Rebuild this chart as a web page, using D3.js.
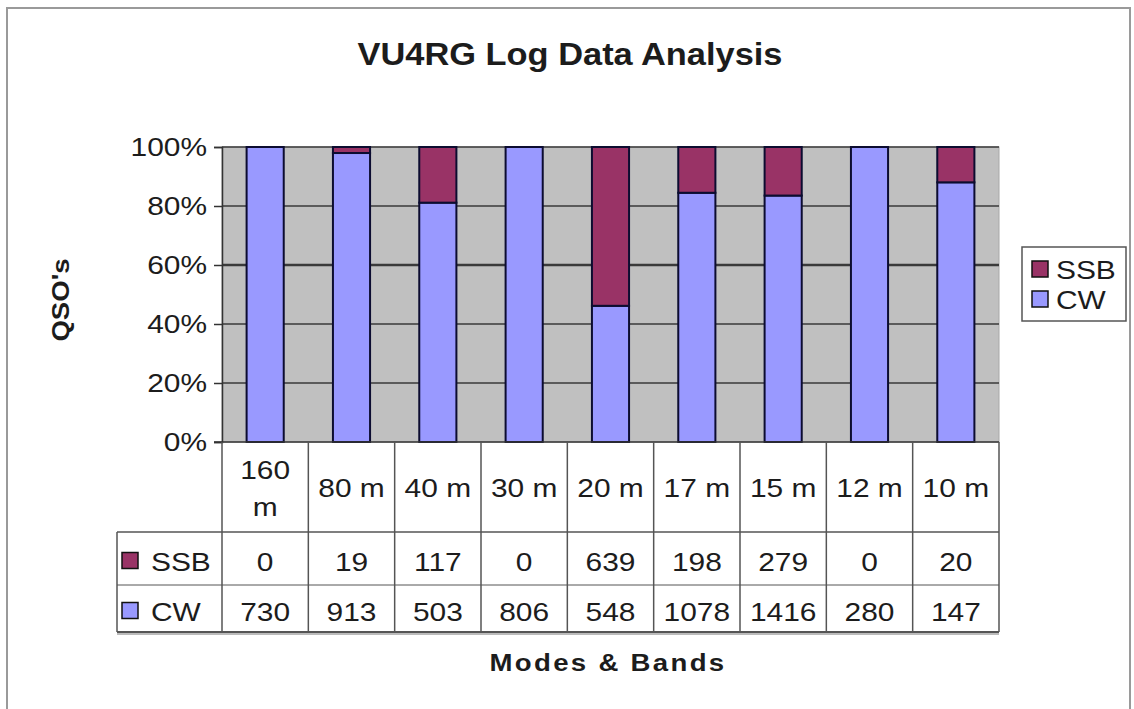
<!DOCTYPE html>
<html>
<head>
<meta charset="utf-8">
<script src="https://cdn.jsdelivr.net/npm/d3@7"></script>
<style>
  body { margin: 0; background: #fff; }
  text { font-family: "Liberation Sans", Arial, sans-serif; fill: #1c1c1c; }
</style>
</head>
<body>
<svg id="chart" width="1134" height="709"></svg>
<script>
// data
const bands = ["160 m", "80 m", "40 m", "30 m", "20 m", "17 m", "15 m", "12 m", "10 m"];
const ssb = [0, 19, 117, 0, 639, 198, 279, 0, 20];
const cw = [730, 913, 503, 806, 548, 1078, 1416, 280, 147];
const yTicks = [0, 0.2, 0.4, 0.6, 0.8, 1];
const seriesNames = ["SSB", "CW"];
const colors = { SSB: "#993366", CW: "#9999ff" };

const SX = 1.15; // the source text is a bit wider than Arial
const FS = 26;
const svg = d3.select("#chart");

// place a text with its own horizontal stretch
function label(parent, tx, ty, str, anchor, size, bold) {
  return parent.append("text")
    .attr("transform", `translate(${tx},${ty}) scale(${SX},1)`)
    .attr("text-anchor", anchor || "start")
    .attr("font-size", size || FS)
    .attr("font-weight", bold ? "bold" : null)
    .text(str);
}

// outer frame
svg.append("rect").attr("x", 7).attr("y", 8).attr("width", 1123).attr("height", 720)
  .attr("fill", "#fff").attr("stroke", "#9a9a9a").attr("stroke-width", 2);

// plot area
const plot = { left: 222, right: 999, top: 147, bottom: 442 };
const tbl = { labelLeft: 117, headBottom: 532, rowMid: 585, bottom: 632 };

const x = d3.scaleBand().domain(bands).range([plot.left, plot.right]).padding(0);
const y = d3.scaleLinear().domain([0, 1]).range([plot.bottom, plot.top]);
const barW = x.bandwidth() * 0.43;

// title
svg.append("text").attr("x", 570).attr("y", 65).attr("text-anchor", "middle")
  .attr("font-size", 32).attr("font-weight", "bold")
  .attr("textLength", 425).attr("lengthAdjust", "spacingAndGlyphs")
  .text("VU4RG Log Data Analysis");

// background + gridlines
svg.append("rect").attr("x", plot.left).attr("y", plot.top)
  .attr("width", plot.right - plot.left).attr("height", plot.bottom - plot.top)
  .attr("fill", "#c0c0c0").attr("stroke", "#a8a8a8").attr("stroke-width", 1);

svg.selectAll(".grid").data(yTicks.filter(d => d > 0)).join("line")
  .attr("class", "grid")
  .attr("x1", plot.left).attr("x2", plot.right)
  .attr("y1", d => y(d)).attr("y2", d => y(d))
  .attr("stroke", "#3a3a3a").attr("stroke-width", d => d === 0.6 ? 2.5 : 1.5);

// y axis
const yAxis = svg.append("g").attr("transform", `translate(${plot.left},0)`)
  .call(d3.axisLeft(y).tickValues(yTicks).tickFormat(d3.format(".0%")).tickSize(8).tickPadding(5));
yAxis.select(".domain").attr("stroke", "#333").attr("stroke-width", 1.5);
yAxis.selectAll(".tick line").attr("stroke", "#333").attr("stroke-width", 1.5);
yAxis.selectAll("text")
  .attr("font-size", FS).attr("font-family", "Liberation Sans, Arial, sans-serif").attr("fill", "#1c1c1c")
  .attr("x", -13 / SX * SX).attr("transform", `scale(${SX},1)`);

// stacked bars
const rows = bands.map((b, i) => ({ band: b, CW: cw[i], SSB: ssb[i] }));
const stack = d3.stack().keys(["CW", "SSB"]).offset(d3.stackOffsetExpand)(rows);

svg.selectAll(".layer").data(stack).join("g")
  .attr("class", "layer")
  .attr("fill", d => colors[d.key])
  .selectAll("rect").data(d => d.filter(p => p[1] - p[0] > 0)).join("rect")
  .attr("x", d => x(d.data.band) + (x.bandwidth() - barW) / 2)
  .attr("y", d => y(d[1]))
  .attr("width", barW)
  .attr("height", d => y(d[0]) - y(d[1]))
  .attr("stroke", "#0c0c30").attr("stroke-width", 2);

// axis baseline
svg.append("line").attr("x1", plot.left - 8).attr("x2", plot.right)
  .attr("y1", plot.bottom).attr("y2", plot.bottom)
  .attr("stroke", "#333").attr("stroke-width", 1.5);

// data table
const gridC = "#555";
const tg = svg.append("g");
bands.concat(["end"]).forEach((b, i) => {
  const xx = i < bands.length ? x(b) : plot.right;
  tg.append("line").attr("x1", xx).attr("x2", xx).attr("y1", plot.bottom).attr("y2", tbl.bottom)
    .attr("stroke", gridC).attr("stroke-width", 1.5);
});
tg.append("line").attr("x1", tbl.labelLeft).attr("x2", tbl.labelLeft)
  .attr("y1", tbl.headBottom).attr("y2", tbl.bottom).attr("stroke", gridC).attr("stroke-width", 1.5);
[tbl.headBottom, tbl.rowMid].forEach(yy => {
  tg.append("line").attr("x1", tbl.labelLeft).attr("x2", plot.right).attr("y1", yy).attr("y2", yy)
    .attr("stroke", gridC).attr("stroke-width", yy === tbl.rowMid ? 1 : 1.5);
});
tg.append("line").attr("x1", tbl.labelLeft).attr("x2", plot.right).attr("y1", tbl.bottom + 2).attr("y2", tbl.bottom + 2)
  .attr("stroke", "#bbb").attr("stroke-width", 2);
tg.append("line").attr("x1", tbl.labelLeft).attr("x2", plot.right).attr("y1", tbl.bottom).attr("y2", tbl.bottom)
  .attr("stroke", "#555").attr("stroke-width", 2);

// header cells (wrap if too wide)
bands.forEach(b => {
  const cx = x(b) + x.bandwidth() / 2;
  const cy = (plot.bottom + tbl.headBottom) / 2;
  const t = label(tg, cx, cy + 10, b, "middle");
  if (t.node().getComputedTextLength() * SX > x.bandwidth() - 6) {
    t.remove();
    const words = b.split(" ");
    words.forEach((w, k) => label(tg, cx, cy + 10 + (k - (words.length - 1) / 2) * 37, w, "middle"));
  }
});

// value rows
const tableRows = [
  { name: "SSB", values: ssb, y0: tbl.headBottom, y1: tbl.rowMid },
  { name: "CW", values: cw, y0: tbl.rowMid, y1: tbl.bottom }
];
tableRows.forEach(r => {
  const cy = (r.y0 + r.y1) / 2 + 2;
  tg.append("rect").attr("x", 122).attr("y", cy - 8).attr("width", 16).attr("height", 16)
    .attr("fill", colors[r.name]).attr("stroke", "#111").attr("stroke-width", 1.5);
  label(tg, 151, cy + 10, r.name);
  r.values.forEach((v, i) => label(tg, x(bands[i]) + x.bandwidth() / 2, cy + 10, v, "middle"));
});

// axis titles
svg.append("text").attr("transform", `translate(69,300) rotate(-90) scale(${SX},1)`)
  .attr("text-anchor", "middle").attr("font-size", 24).attr("font-weight", "bold")
  .text("QSO's");
label(svg, 608, 671, "Modes & Bands", "middle", 24, true).attr("letter-spacing", 2);

// legend
const lg = svg.append("g").attr("transform", "translate(1022,247)");
lg.append("rect").attr("width", 104).attr("height", 74)
  .attr("fill", "#fff").attr("stroke", "#555").attr("stroke-width", 1.5);
seriesNames.forEach((s, i) => {
  const g = lg.append("g").attr("transform", `translate(10,${22 + i * 30})`);
  g.append("rect").attr("x", 0).attr("y", -8).attr("width", 16).attr("height", 16)
    .attr("fill", colors[s]).attr("stroke", "#111").attr("stroke-width", 1.5);
  label(g, 24, 10, s);
});
</script>
</body>
</html>
